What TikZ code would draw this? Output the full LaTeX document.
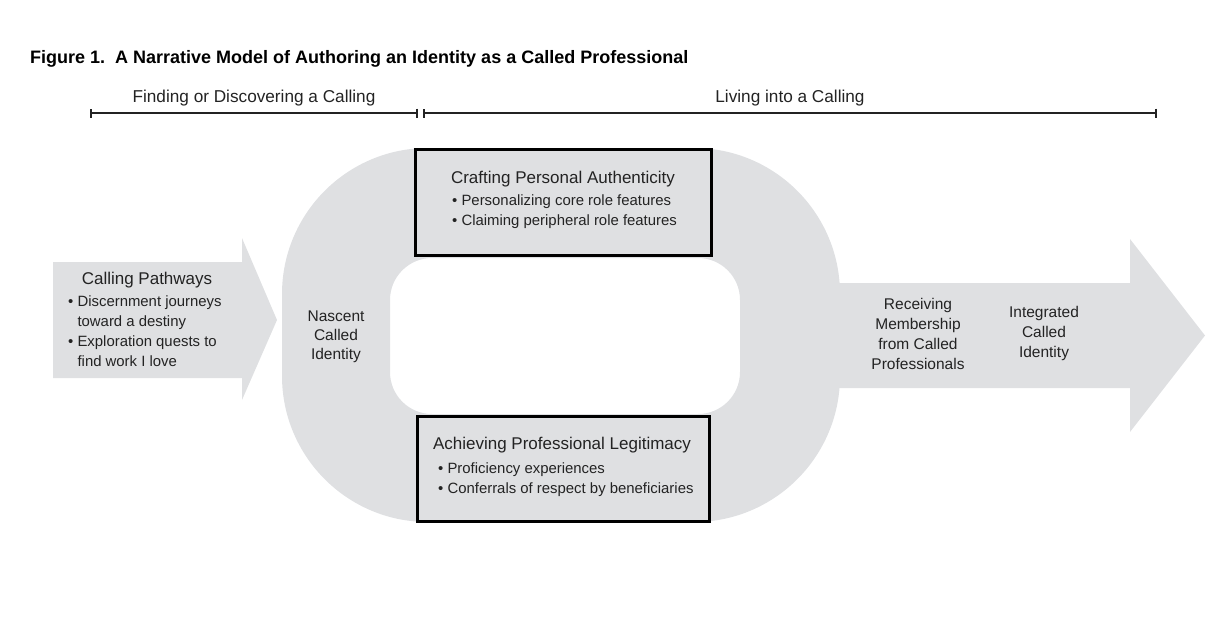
\documentclass[tikz,border=0pt]{standalone}
\usepackage{fontspec}
\setmainfont{Liberation Sans}
\usepackage{tikz}
\usetikzlibrary{arrows.meta, positioning}
\definecolor{callgrey}{RGB}{223, 224, 226}
\definecolor{inkgrey}{RGB}{35, 35, 35}

\begin{document}
\begin{tikzpicture}[x=1pt, y=-1pt,
  headtext/.style={font=\fontsize{17}{20}\selectfont, text=inkgrey, inner sep=0pt},
  plaintext/.style={font=\fontsize{15.5}{20}\selectfont, text=inkgrey, inner sep=0pt, align=center},
  bullettext/.style={font=\fontsize{14.9}{20}\selectfont, text=inkgrey, inner sep=0pt, align=left, anchor=west},
  rolebox/.style={draw=black, line width=3pt, fill=callgrey, inner sep=0pt},
  spanline/.style={draw=inkgrey, line width=1.4pt, {Bar[width=9pt, line width=2pt]}-{Bar[width=9pt, line width=2pt]}}]
\useasboundingbox (0,0) rectangle (1228,621);

% title and phases
\node[anchor=west, inner sep=0pt, font=\fontsize{18}{20}\selectfont\bfseries] (title) at (30,59) {Figure 1.\ \ A Narrative Model of Authoring an Identity as a Called Professional};
\node[headtext, font=\fontsize{17.2}{20}\selectfont] (findlabel) at (254,98) {Finding or Discovering a Calling};
\node[headtext, font=\fontsize{17.2}{20}\selectfont] (livelabel) at (790,98) {Living into a Calling};
\coordinate (findstart) at (90,113);
\coordinate (findend) at (418,113);
\coordinate (livestart) at (423,113);
\coordinate (liveend) at (1157,113);
\draw[spanline] (findstart) -- (findend);
\draw[spanline] (livestart) -- (liveend);

% grey shapes
\fill[callgrey] (53,262) -- (242,262) -- (242,238) -- (277,320) -- (242,400) -- (242,378) -- (53,378) -- cycle;
\fill[callgrey, even odd rule] [rounded corners=146pt] (282,148) rectangle (840,522)
  [rounded corners=42pt] (390,258) rectangle (740,414);
\fill[callgrey] (800,283) -- (1130,283) -- (1130,239) -- (1205,335.5) -- (1130,432) -- (1130,388) -- (800,388) -- cycle;

% role boxes
\node[rolebox, minimum width=296pt, minimum height=106pt] (craft) at (563,202) {};
\node[rolebox, minimum width=292pt, minimum height=105pt] (achieve) at (563,468.5) {};

% texts
\node[headtext] (pathhead) at (147,280) {Calling Pathways};
\node[bullettext] (pathlist) at (68,331) {\textbullet\ Discernment journeys\\\phantom{\textbullet\ }toward a destiny\\\textbullet\ Exploration quests to\\\phantom{\textbullet\ }find work I love};
\node[plaintext, font=\fontsize{15.5}{19}\selectfont] (nascent) at (336,337) {Nascent\\Called\\Identity};
\node[headtext] (crafthead) at (563,179) {Crafting Personal Authenticity};
\node[bullettext] (craftlist) at (452,212) {\textbullet\ Personalizing core role features\\\textbullet\ Claiming peripheral role features};
\node[headtext] (achievehead) at (562,445) {Achieving Professional Legitimacy};
\node[bullettext] (achievelist) at (438,480) {\textbullet\ Proficiency experiences\\\textbullet\ Conferrals of respect by beneficiaries};
\node[plaintext] (receiving) at (918,334) {Receiving\\Membership\\from Called\\Professionals};
\node[plaintext] (integrated) at (1044,333) {Integrated\\Called\\Identity};
\end{tikzpicture}
\end{document}
